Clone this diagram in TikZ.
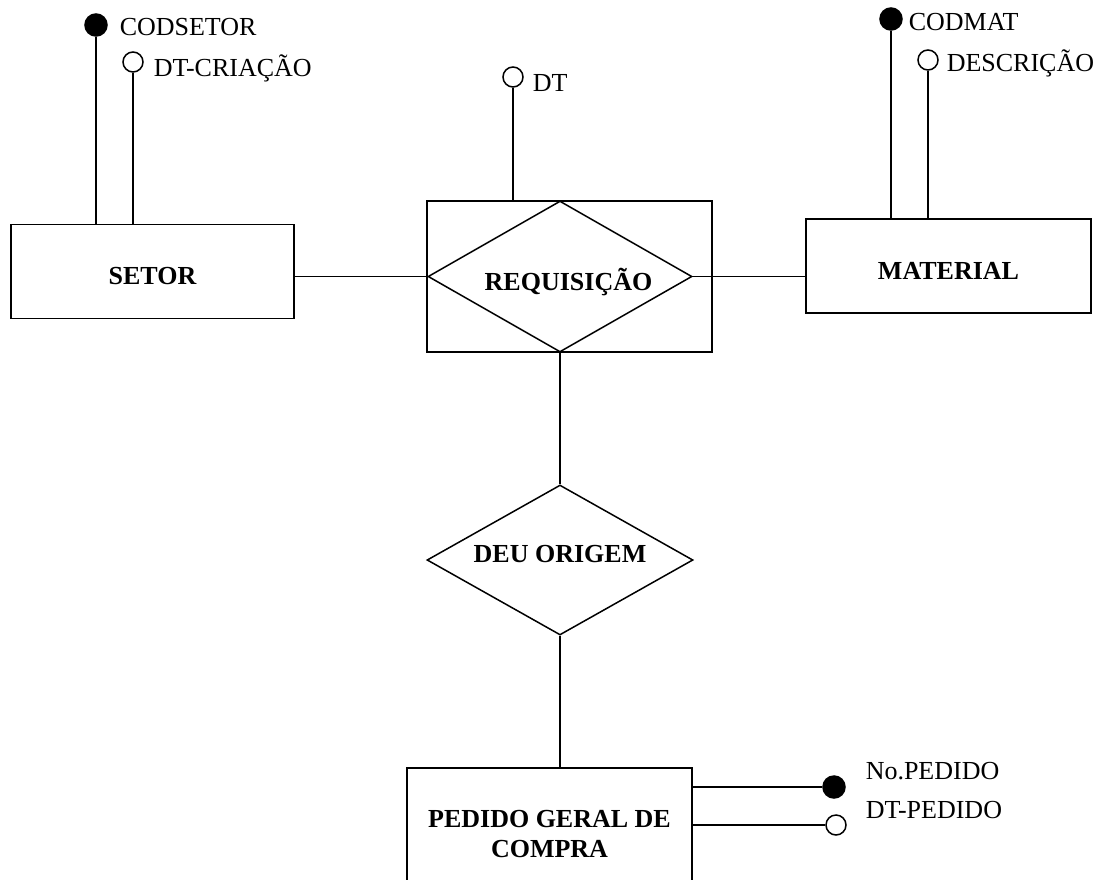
\documentclass[tikz,border=0pt]{standalone}
\usepackage{fontspec}
\setmainfont{Liberation Serif}
\usetikzlibrary{shapes.geometric}
\begin{document}
\begin{tikzpicture}[x=1pt,y=-1pt,line width=1.5pt,
  lbl/.style={font=\fontsize{26}{30}\selectfont\bfseries},
  entity/.style={draw, rectangle, inner sep=0pt, lbl},
  rel/.style={draw, diamond, aspect=1.75, inner sep=0pt, lbl},
  keyattr/.style={circle, draw, fill=black, inner sep=0pt, minimum size=22pt},
  attr/.style={circle, draw, fill=white, inner sep=0pt, minimum size=20pt},
  attrtext/.style={anchor=base west, inner sep=0pt, font=\fontsize{26}{30}\selectfont}]
\useasboundingbox (0,0) rectangle (1103,879);
\clip (0,0) rectangle (1103,879);
% entities
\node[entity, minimum width=283pt, minimum height=94pt] (setor) at (152.5,271.5)
  {\raisebox{-5pt}[\height][\depth]{SETOR}};
\node[entity, minimum width=285pt, minimum height=94pt] (material) at (948.5,266)
  {\raisebox{-5pt}[\height][\depth]{MATERIAL}};
\node[entity, minimum width=285pt, minimum height=151pt] (reqbox) at (569.5,276.5) {};
\node[rel, minimum width=264pt, minimum height=151pt] (req) at (560,276.5)
  {\raisebox{-6pt}[\height][\depth]{\hspace*{17pt}REQUISIÇÃO}};
\node[rel, minimum width=266pt, minimum height=150pt] (deu) at (560,560)
  {\raisebox{6pt}[\height][\depth]{DEU ORIGEM}};
\node[entity, align=center, minimum width=285pt, minimum height=133pt] (pedido) at (549.5,834.5)
  {PEDIDO GERAL DE\\COMPRA};
% attributes
\node[keyattr] (codsetor) at (96,25) {};
\node[attrtext] (tcodsetor) at (119,35) {CODSETOR};
\node[attr] (dtcria) at (133,62) {};
\node[attrtext] (tdtcria) at (153,76) {DT-CRIAÇÃO};
\node[attr] (dt) at (513,77) {};
\node[attrtext] (tdt) at (532,91) {DT};
\node[keyattr] (codmat) at (891,19) {};
\node[attrtext] (tcodmat) at (908,30) {CODMAT};
\node[attr] (desc) at (928,60) {};
\node[attrtext] (tdesc) at (946,71) {DESCRIÇÃO};
\node[keyattr] (nop) at (834,787) {};
\node[attrtext] (tnop) at (865,779) {No.PEDIDO};
\node[attr] (dtped) at (836,825) {};
\node[attrtext] (tdtped) at (865,818) {DT-PEDIDO};
% attribute lines
\draw (codsetor) -- (codsetor |- setor.north);
\draw (dtcria) -- (dtcria |- setor.north);
\draw (dt) -- (dt |- reqbox.north);
\draw (codmat) -- (codmat |- material.north);
\draw (desc) -- (desc |- material.north);
\draw (nop -| pedido.east) -- (nop);
\draw (dtped -| pedido.east) -- (dtped);
% relationship lines
\draw (setor.east |- req.west) -- (req.west);
\draw (req.east) -- (req.east -| material.west);
\draw (req.south) -- (deu.north);
\draw (deu.south) -- (deu.south |- pedido.north);
\end{tikzpicture}
\end{document}
